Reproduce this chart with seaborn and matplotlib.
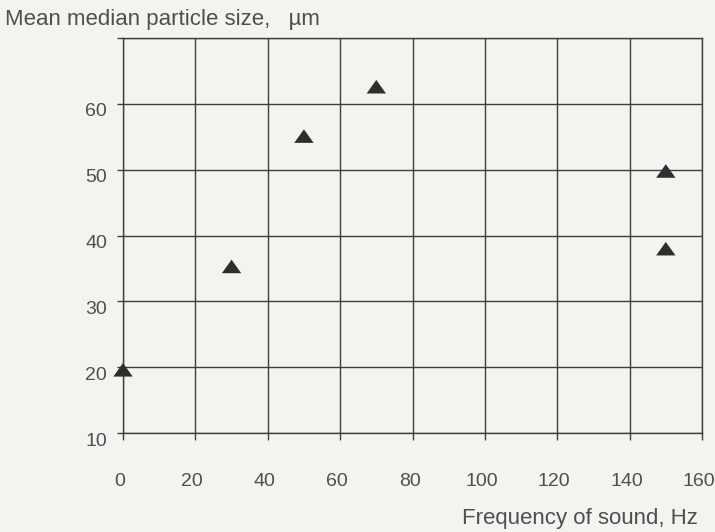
import numpy as np
import pandas as pd
import matplotlib
matplotlib.use("Agg")
import matplotlib.pyplot as plt
import matplotlib.transforms as mtransforms
import seaborn as sns

# values
frequency_hz = [0, 30, 50, 70, 150, 150]
particle_size_um = [19.6, 35.3, 55.1, 62.6, 49.8, 38.0]
x_ticks = [0, 20, 40, 60, 80, 100, 120, 140, 160]
y_ticks = [10, 20, 30, 40, 50, 60, 70]
y_tick_labels = ["10", "20", "30", "40", "50", "60", ""]

df = pd.DataFrame({"freq": frequency_hz, "size": particle_size_um})

sns.set_style("ticks")
plt.rcParams["font.family"] = ["Liberation Sans", "DejaVu Sans"]

paper = "#f4f3ef"
ink = "#3e3e3e"
text_col = "#4f4f4f"

fig = plt.figure(figsize=(7.15, 5.32), dpi=100, facecolor=paper)
ax = fig.add_axes([123 / 715, 1 - 433 / 532, (702 - 123) / 715, (433 - 38) / 532])
ax.set_facecolor(paper)

# flat, wide triangle like the printed markers
tri = [(-1, -0.7), (1, -0.7), (0, 0.7), (-1, -0.7)]
sns.scatterplot(data=df, x="freq", y="size", marker=tri, s=195,
                color="#2e2e2e", edgecolor="none", linewidth=0, ax=ax, zorder=5,
                clip_on=False)

ax.set_xlim(0, 160)
ax.set_ylim(10, 70)
ax.set_xticks(x_ticks)
ax.set_yticks(y_ticks)
ax.set_yticklabels(y_tick_labels)
ax.set_xlabel("")
ax.set_ylabel("")

ax.grid(True, color=ink, linewidth=1.0)
for side in ["left", "right", "top", "bottom"]:
    ax.spines[side].set_visible(True)
    ax.spines[side].set_color(ink)
    ax.spines[side].set_linewidth(1.0)

ax.tick_params(axis="x", direction="out", length=5, width=1.0, color=ink,
               pad=24, labelsize=14, labelcolor=text_col)
ax.tick_params(axis="y", direction="out", length=4.5, width=1.0, color=ink,
               pad=7, labelsize=14, labelcolor=text_col)

# printed labels sit a bit low / a bit left of their lines
for lab in ax.get_yticklabels():
    lab.set_transform(lab.get_transform() +
                      mtransforms.ScaledTranslation(0, -6 / 100, fig.dpi_scale_trans))
for lab in ax.get_xticklabels():
    lab.set_transform(lab.get_transform() +
                      mtransforms.ScaledTranslation(-3 / 100, 0, fig.dpi_scale_trans))

fig.text(5 / 715, 1 - 25 / 532, "Mean median particle size,   \u00b5m",
         fontsize=16, color=text_col, ha="left", va="baseline")
fig.text(698 / 715, 1 - 524 / 532, "Frequency of sound, Hz",
         fontsize=16, color=text_col, ha="right", va="baseline")

fig.savefig("out.png", dpi=100, facecolor=paper)
